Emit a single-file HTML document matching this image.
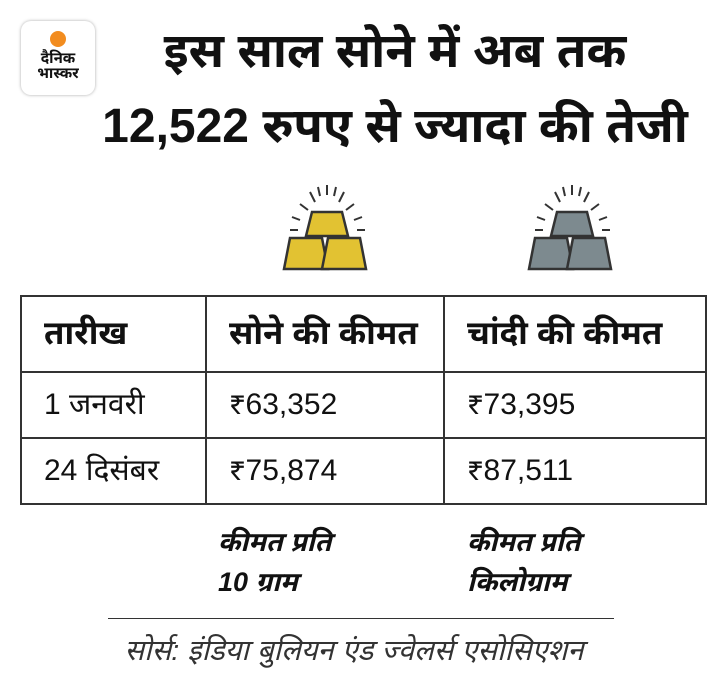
<!DOCTYPE html>
<html><head><meta charset="utf-8"><style>
body{margin:0;width:720px;height:700px;background:#fff;font-family:"Liberation Sans","Noto Sans Devanagari","Lohit Devanagari",sans-serif;color:#111;position:relative;overflow:hidden}
.a{position:absolute;white-space:nowrap}
.logo{left:21px;top:21px;width:74px;height:74px;border-radius:10px;box-shadow:0 0 3px #aaa;background:#fff;text-align:center;font-weight:bold;font-size:15px;line-height:15px}
.t{font-weight:bold;font-size:48px;text-align:center}
table{position:absolute;left:20px;top:295px;width:685px;border-collapse:collapse;font-size:30px;table-layout:fixed}
td{border:2px solid #333;padding:4px 0 0 22px;height:60px;overflow:hidden}
tr.h td{height:70px;font-weight:bold;font-size:33px}
tr.r1 td{border-bottom:1px dotted #555}
.n{font-style:italic;font-weight:bold;font-size:27px;line-height:40px}
</style></head><body>
<div class="a logo"><div style="width:16px;height:16px;border-radius:50%;background:#f28c1f;margin:10px auto 4px"></div>दैनिक<br>भास्कर</div>
<div class="a t" style="left:100px;width:590px;top:24px">इस साल सोने में अब तक</div>
<div class="a t" style="left:80px;width:630px;top:99px">12,522 रुपए से ज्यादा की तेजी</div>
<svg class="a" style="left:280px;top:182px" width="95" height="92" viewBox="0 0 95 92">
<g stroke="#333" stroke-width="2" fill="none"><path d="M47 3v10M38 5l2 9M56 5l-2 9M30 10l5 10M64 10l-5 10M20 22l8 6M74 22l-8 6M12 35l8 3M82 35l-8 3M10 48h8M77 48h8"/></g>
<g stroke="#333" stroke-width="2.5" fill="#e2c232"><path d="M32 30h30l6 24h-42z"/><path d="M10 56h32l6 31h-44z"/><path d="M48 56h32l6 31h-44z"/></g>
</svg>
<svg class="a" style="left:525px;top:182px" width="95" height="92" viewBox="0 0 95 92">
<g stroke="#333" stroke-width="2" fill="none"><path d="M47 3v10M38 5l2 9M56 5l-2 9M30 10l5 10M64 10l-5 10M20 22l8 6M74 22l-8 6M12 35l8 3M82 35l-8 3M10 48h8M77 48h8"/></g>
<g stroke="#333" stroke-width="2.5" fill="#7d8a8f"><path d="M32 30h30l6 24h-42z"/><path d="M10 56h32l6 31h-44z"/><path d="M48 56h32l6 31h-44z"/></g>
</svg>
<table>
<colgroup><col style="width:185px"><col style="width:238px"><col style="width:262px"></colgroup>
<tr class="h"><td>तारीख</td><td>सोने की कीमत</td><td>चांदी की कीमत</td></tr>
<tr class="r1"><td>1 जनवरी</td><td>₹63,352</td><td>₹73,395</td></tr>
<tr><td>24 दिसंबर</td><td>₹75,874</td><td>₹87,511</td></tr>
</table>
<div class="a n" style="left:218px;top:522px">कीमत प्रति<br>10 ग्राम</div>
<div class="a n" style="left:467px;top:522px">कीमत प्रति<br>किलोग्राम</div>
<div class="a" style="left:108px;top:618px;width:506px;border-top:1.5px solid #333"></div>
<div class="a" style="left:0;width:708px;text-align:center;top:634px;font-size:29px;font-style:italic;color:#333">सोर्स: इंडिया बुलियन एंड ज्वेलर्स एसोसिएशन</div>
</body></html>
